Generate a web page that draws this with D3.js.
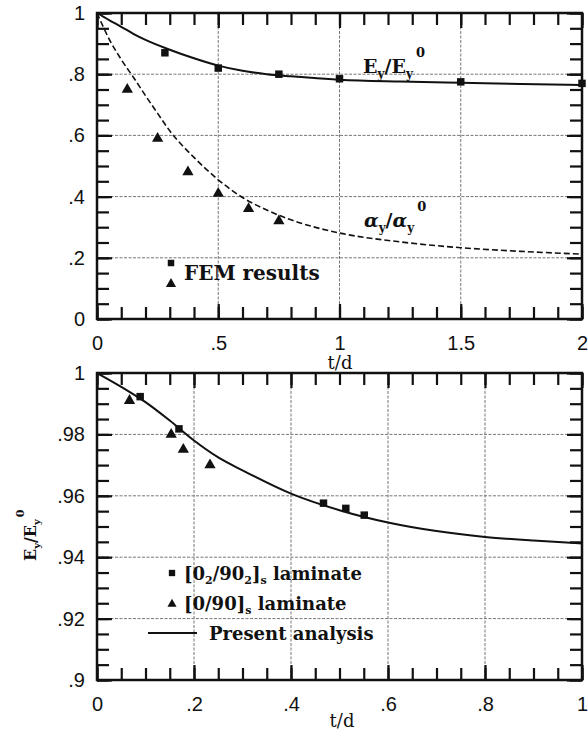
<!DOCTYPE html>
<html><head><meta charset="utf-8">
<script src="https://cdn.jsdelivr.net/npm/d3@7"></script>
<style>
body{margin:0;background:#fff;}
svg{display:block;}
.lbl{font-family:"DejaVu Serif",serif;fill:#111;}
</style></head><body>
<script>
// ---------- DATA ----------
// Top panel
const topEcurveX = [0,0.05,0.1,0.15,0.2,0.3,0.4,0.5,0.6,0.7,0.8,1.0,1.25,1.5,1.75,2.0];
const topEcurveY = [1,0.977,0.955,0.932,0.912,0.88,0.852,0.828,0.811,0.80,0.793,0.782,0.776,0.772,0.768,0.765];
const topAcurveX = [0,0.05,0.1,0.15,0.2,0.25,0.3,0.4,0.5,0.6,0.7,0.8,1.0,1.25,1.5,1.75,2.0];
const topAcurveY = [1,0.915,0.848,0.79,0.73,0.672,0.615,0.528,0.455,0.397,0.356,0.324,0.281,0.252,0.233,0.221,0.212];
const topEfemX = [0.28,0.5,0.75,1.0,1.5,2.0];
const topEfemY = [0.87,0.82,0.80,0.785,0.775,0.77];
const topAfemX = [0.125,0.25,0.375,0.5,0.625,0.75];
const topAfemY = [0.75,0.59,0.48,0.41,0.36,0.32];
const topXTicks = [0,0.5,1,1.5,2];
const topXTickLabels = ["0",".5","1","1.5","2"];
const topYTicks = [0,0.2,0.4,0.6,0.8,1];
const topYTickLabels = ["0",".2",".4",".6",".8","1"];
// Bottom panel
const botCurveX = [0,0.05,0.1,0.15,0.2,0.25,0.3,0.4,0.5,0.6,0.7,0.8,0.9,1.0];
const botCurveY = [1,0.9955,0.9905,0.9845,0.978,0.9725,0.9683,0.9607,0.9553,0.9513,0.9485,0.9466,0.9454,0.9445];
const botSqX = [0.089,0.169,0.467,0.513,0.551];
const botSqY = [0.9923,0.9818,0.9576,0.9559,0.9537];
const botTriX = [0.067,0.153,0.178,0.233];
const botTriY = [0.991,0.980,0.9751,0.970];
const botXTicks = [0,0.2,0.4,0.6,0.8,1];
const botXTickLabels = ["0",".2",".4",".6",".8","1"];
const botYTicks = [0.9,0.92,0.94,0.96,0.98,1];
const botYTickLabels = [".9",".92",".94",".96",".98","1"];

// ---------- DRAW ----------
const W=588,H=732, XL=97, XR=582;
const svg=d3.select("body").append("svg").attr("width",W).attr("height",H);
const TICKC="#111";

function styleAxis(sel){
  sel.select(".domain").remove();
  sel.selectAll(".tick line").attr("stroke",TICKC).attr("stroke-width",2.2);
  sel.selectAll(".tick text").attr("fill","#111").attr("font-family","'Liberation Sans',Arial,sans-serif").attr("font-size",20);
}

function panel(o){
  const x=d3.scaleLinear().domain(o.xd).range([XL,XR]);
  const y=d3.scaleLinear().domain(o.yd).range([o.y1,o.y0]);
  const g=svg.append("g");
  // grid
  g.append("g").selectAll("line").data(o.xTicks.slice(1,-1)).join("line")
    .attr("x1",d=>x(d)).attr("x2",d=>x(d)).attr("y1",o.y0).attr("y2",o.y1)
    .attr("stroke","#777").attr("stroke-width",1).attr("stroke-dasharray","3,1.5");
  g.append("g").selectAll("line").data(o.yTicks.slice(1,-1)).join("line")
    .attr("y1",d=>y(d)).attr("y2",d=>y(d)).attr("x1",XL).attr("x2",XR)
    .attr("stroke","#777").attr("stroke-width",1).attr("stroke-dasharray","3,1.5");
  const nx=Math.round((o.xd[1]-o.xd[0])/o.xMinor), ny=Math.round((o.yd[1]-o.yd[0])/o.yMinor);
  const mx=d3.range(nx+1).map(i=>o.xd[0]+i*o.xMinor), my=d3.range(ny+1).map(i=>o.yd[0]+i*o.yMinor);
  // minor ticks, inward on all four sides
  g.append("g").attr("transform",`translate(0,${o.y1})`).call(d3.axisBottom(x).tickValues(mx).tickSizeInner(-12).tickSizeOuter(0).tickFormat("")).call(styleAxis);
  g.append("g").attr("transform",`translate(0,${o.y0})`).call(d3.axisTop(x).tickValues(mx).tickSizeInner(-12).tickSizeOuter(0).tickFormat("")).call(styleAxis);
  g.append("g").attr("transform",`translate(${XL},0)`).call(d3.axisLeft(y).tickValues(my).tickSizeInner(-12).tickSizeOuter(0).tickFormat("")).call(styleAxis);
  g.append("g").attr("transform",`translate(${XR},0)`).call(d3.axisRight(y).tickValues(my).tickSizeInner(-12).tickSizeOuter(0).tickFormat("")).call(styleAxis);
  // major ticks with labels
  g.append("g").attr("transform",`translate(0,${o.y1})`).call(d3.axisBottom(x).tickValues(o.xTicks).tickSizeInner(-15).tickSizeOuter(0).tickPadding(17).tickFormat((d,i)=>o.xLabels[i])).call(styleAxis);
  g.append("g").attr("transform",`translate(0,${o.y0})`).call(d3.axisTop(x).tickValues(o.xTicks).tickSizeInner(-15).tickSizeOuter(0).tickFormat("")).call(styleAxis);
  g.append("g").attr("transform",`translate(${XL},0)`).call(d3.axisLeft(y).tickValues(o.yTicks).tickSizeInner(-15).tickSizeOuter(0).tickPadding(12).tickFormat((d,i)=>o.yLabels[i])).call(styleAxis);
  g.append("g").attr("transform",`translate(${XR},0)`).call(d3.axisRight(y).tickValues(o.yTicks).tickSizeInner(-15).tickSizeOuter(0).tickFormat("")).call(styleAxis);
  // frame
  g.append("rect").attr("x",XL).attr("y",o.y0).attr("width",XR-XL).attr("height",o.y1-o.y0)
    .attr("fill","none").attr("stroke","#111").attr("stroke-width",2.5);
  return {x,y,g};
}

const lineGen=(x,y)=>d3.line().x(d=>x(d[0])).y(d=>y(d[1])).curve(d3.curveMonotoneX);
const sq=d3.symbol().type(d3.symbolSquare).size(56);
const tri=d3.symbol().type(d3.symbolTriangle).size(55);
function marks(P,xs,ys,sym){
  P.g.append("g").selectAll("path").data(d3.zip(xs,ys)).join("path").attr("d",sym)
    .attr("transform",d=>`translate(${P.x(d[0])},${P.y(d[1])})`).attr("fill","#111");
}

// top
const P1=panel({xd:[0,2],yd:[0,1],y0:13,y1:319,xTicks:topXTicks,xLabels:topXTickLabels,yTicks:topYTicks,yLabels:topYTickLabels,xMinor:0.1,yMinor:0.05});
P1.g.append("path").datum(d3.zip(topEcurveX,topEcurveY)).attr("d",lineGen(P1.x,P1.y))
  .attr("fill","none").attr("stroke","#111").attr("stroke-width",2);
P1.g.append("path").datum(d3.zip(topAcurveX,topAcurveY)).attr("d",lineGen(P1.x,P1.y))
  .attr("fill","none").attr("stroke","#111").attr("stroke-width",1.6).attr("stroke-dasharray","6,3");
marks(P1,topEfemX,topEfemY,sq);
marks(P1,topAfemX,topAfemY,tri);
// labels top
let t=P1.g.append("text").attr("class","lbl").attr("font-weight","bold").attr("x",363).attr("y",73).attr("font-size",19);
t.append("tspan").text("E");
t.append("tspan").attr("font-size",12).attr("dy",5).text("y");
t.append("tspan").attr("dy",-5).text("/E");
t.append("tspan").attr("font-size",12).attr("dy",5).text("y");
t.append("tspan").attr("font-size",13).attr("dx",3).attr("dy",-21).text("0");
t=P1.g.append("text").attr("class","lbl").attr("font-weight","bold").attr("x",364).attr("y",227).attr("font-size",19);
t.append("tspan").attr("font-style","italic").text("α");
t.append("tspan").attr("font-size",12).attr("dy",5).text("y");
t.append("tspan").attr("dy",-5).text("/");
t.append("tspan").attr("font-style","italic").text("α");
t.append("tspan").attr("font-size",12).attr("dy",5).text("y");
t.append("tspan").attr("font-size",13).attr("dx",3).attr("dy",-21).text("0");
P1.g.append("path").attr("d",d3.symbol().type(d3.symbolSquare).size(42)).attr("transform","translate(171,263)").attr("fill","#111");
P1.g.append("path").attr("d",d3.symbol().type(d3.symbolTriangle).size(45)).attr("transform","translate(171,284)").attr("fill","#111");
P1.g.append("text").attr("class","lbl").attr("font-weight","bold").attr("x",184).attr("y",280).attr("font-size",20).text("FEM results");
P1.g.append("text").attr("class","lbl").attr("x",340).attr("y",369).attr("text-anchor","middle").attr("font-size",18).text("t/d");

// bottom
const P2=panel({xd:[0,1],yd:[0.9,1],y0:373,y1:680,xTicks:botXTicks,xLabels:botXTickLabels,yTicks:botYTicks,yLabels:botYTickLabels,xMinor:0.05,yMinor:0.005});
P2.g.append("path").datum(d3.zip(botCurveX,botCurveY)).attr("d",lineGen(P2.x,P2.y))
  .attr("fill","none").attr("stroke","#111").attr("stroke-width",2);
marks(P2,botSqX,botSqY,sq);
marks(P2,botTriX,botTriY,tri);
// legend bottom
P2.g.append("path").attr("d",d3.symbol().type(d3.symbolSquare).size(40)).attr("transform","translate(172,573)").attr("fill","#111");
t=P2.g.append("text").attr("class","lbl").attr("font-weight","bold").attr("x",184).attr("y",580).attr("font-size",18);
t.append("tspan").text("[0");
t.append("tspan").attr("font-size",11).attr("dy",4).text("2");
t.append("tspan").attr("dy",-4).text("/90");
t.append("tspan").attr("font-size",11).attr("dy",4).text("2");
t.append("tspan").attr("dy",-4).text("]");
t.append("tspan").attr("font-size",11).attr("dy",4).text("s");
t.append("tspan").attr("dy",-4).text(" laminate");
P2.g.append("path").attr("d",d3.symbol().type(d3.symbolTriangle).size(36)).attr("transform","translate(172,604)").attr("fill","#111");
t=P2.g.append("text").attr("class","lbl").attr("font-weight","bold").attr("x",184).attr("y",610).attr("font-size",18);
t.append("tspan").text("[0/90]");
t.append("tspan").attr("font-size",11).attr("dy",4).text("s");
t.append("tspan").attr("dy",-4).text(" laminate");
P2.g.append("line").attr("x1",148).attr("x2",197).attr("y1",633).attr("y2",633).attr("stroke","#111").attr("stroke-width",2);
P2.g.append("text").attr("class","lbl").attr("font-weight","bold").attr("x",209).attr("y",640).attr("font-size",18).text("Present analysis");
P2.g.append("text").attr("class","lbl").attr("x",342).attr("y",727).attr("text-anchor","middle").attr("font-size",18).text("t/d");
// y label
t=P2.g.append("text").attr("class","lbl").attr("font-weight","bold").attr("transform","translate(36,561) rotate(-90)").attr("font-size",16);
t.append("tspan").text("E");
t.append("tspan").attr("font-size",10).attr("dy",4).text("y");
t.append("tspan").attr("dy",-4).text("/E");
t.append("tspan").attr("font-size",10).attr("dy",4).text("y");
t.append("tspan").attr("font-size",11).attr("dx",2).attr("dy",-16).text("0");
</script>
</body></html>
